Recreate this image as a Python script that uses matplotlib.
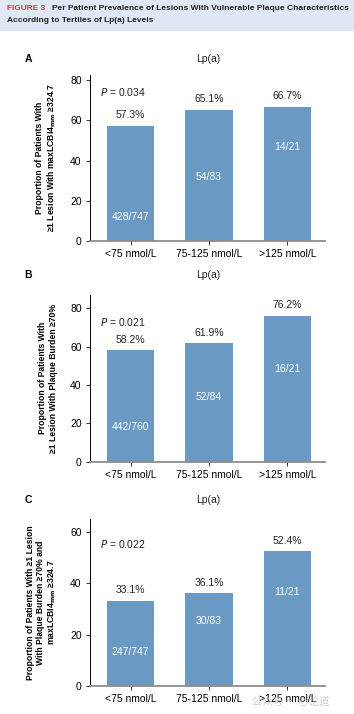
import matplotlib.pyplot as plt
from matplotlib.patches import Rectangle

plt.rcParams['font.family'] = ['Liberation Sans', 'DejaVu Sans']

# 数据
categories = ['<75 nmol/L', '75-125 nmol/L', '>125 nmol/L']
pct_a = [57.3, 65.1, 66.7]
pct_b = [58.2, 61.9, 76.2]
pct_c = [33.1, 36.1, 52.4]
counts_a = ['428/747', '54/83', '14/21']
counts_b = ['442/760', '52/84', '16/21']
counts_c = ['247/747', '30/83', '11/21']
pvals = ['0.034', '0.021', '0.022']
ylabels = [
    'Proportion of Patients With\n≥1 Lesion With maxLCBI4$_{\\mathbf{mm}}$ ≥324.7',
    'Proportion of Patients With\n≥1 Lesion With Plaque Burden ≥70%',
    'Proportion of Patients With ≥1 Lesion\nWith Plaque Burden ≥70% and\nmaxLCBI4$_{\\mathbf{mm}}$ ≥324.7',
]

bar_color = '#6a9ac3'
W, H = 354, 714

fig = plt.figure(figsize=(3.54, 7.14), dpi=100)

# 标题栏
fig.patches.append(Rectangle((0, 1 - 31 / H), 1, 31 / H, transform=fig.transFigure,
                             facecolor='#dfe9f5', edgecolor='none', zorder=0))
fig.text(7 / W, 1 - 8 / H, 'FIGURE 3', color='#e2383f', fontsize=6.0, fontweight='bold', va='center')
fig.text(52 / W, 1 - 8 / H, 'Per Patient Prevalence of Lesions With Vulnerable Plaque Characteristics',
         color='#222222', fontsize=6.0, fontweight='bold', va='center')
fig.text(7 / W, 1 - 21 / H, 'According to Tertiles of Lp(a) Levels',
         color='#222222', fontsize=6.0, fontweight='bold', va='center')

# 面板: (字母, 数据, 计数, 计数位置, ylim, yticks, 轴顶, 轴底, 字母y, P值y)
panels = [
    ('A', pct_a, counts_a, [12, 32, 46.5], 82.5, [0, 20, 40, 60, 80], 75, 241, 59, 0.896),
    ('B', pct_b, counts_b, [18.3, 33.6, 48.2], 87, [0, 20, 40, 60, 80], 295, 461.7, 275, 0.84),
    ('C', pct_c, counts_c, [13.1, 25.4, 36.5], 65, [0, 20, 40, 60], 519, 686, 500, 0.848),
]

for i, (letter, pct, counts, cy, ytop, yticks, top, bot, ly, py) in enumerate(panels):
    ax = fig.add_axes([90 / W, 1 - bot / H, 235 / W, (bot - top) / H])
    x = range(len(categories))
    ax.bar(x, pct, width=0.6, color=bar_color, zorder=2)
    ax.set_xlim(-0.516, 2.478)
    ax.set_ylim(0, ytop)
    ax.set_yticks(yticks)
    ax.set_xticks(list(x))
    ax.set_xticklabels(categories)
    ax.tick_params(axis='both', labelsize=7.5, length=3, width=0.7, color='#333333', pad=3)
    ax.tick_params(axis='x', pad=3)
    for s in ['top', 'right']:
        ax.spines[s].set_visible(False)
    ax.spines['left'].set_linewidth(0.7)
    ax.spines['bottom'].set_color('#8c8c8c')
    ax.spines['bottom'].set_linewidth(1.3)
    for xi, v, c, y in zip(x, pct, counts, cy):
        ax.annotate(f'{v}%', (xi, v), xytext=(0, 4), textcoords='offset points',
                    ha='center', va='bottom', fontsize=7.5, color='#222222')
        ax.text(xi, y, c, ha='center', va='center', fontsize=7.5, color='white')
    ax.text(0.043, py, '$\\it{P}$ = ' + pvals[i], transform=ax.transAxes,
            fontsize=7.5, va='center', ha='left', color='#222222')
    ax.set_ylabel(ylabels[i], fontsize=6.2, fontweight='bold', labelpad=9, linespacing=1.15)
    fig.text(28 / W, 1 - ly / H, letter, fontsize=7.5, fontweight='bold', va='center', ha='center')
    fig.text(208 / W, 1 - ly / H, 'Lp(a)', fontsize=7.5, va='center', ha='center', color='#222222')

# 水印
fig.text(252 / W, 1 - 702 / H, '公众号 · 心论道', fontsize=7.5, color='#c4c4c4', alpha=0.8,
         family=['Noto Sans CJK SC', 'DejaVu Sans'], va='center', ha='left', zorder=0)

fig.savefig('out.png', dpi=100)
